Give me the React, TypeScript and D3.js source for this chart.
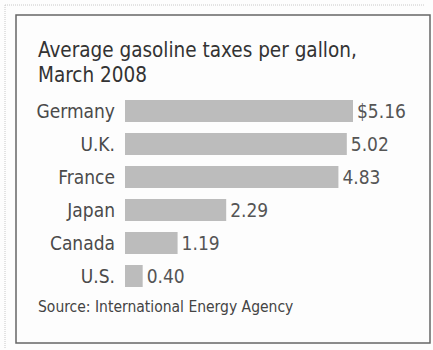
import React from "react";
import * as d3 from "d3";

const countries = ["Germany", "U.K.", "France", "Japan", "Canada", "U.S."];
const taxes = [5.16, 5.02, 4.83, 2.29, 1.19, 0.4];
const titleLines = ["Average gasoline taxes per gallon,", "March 2008"];
const source = "Source: International Energy Agency";

const W = 433;
const H = 350;
const FONT = "'DejaVu Sans Condensed', 'Liberation Sans Narrow', 'DejaVu Sans', sans-serif";

export default function App() {
  const x = d3.scaleLinear().domain([0, 5.16]).range([125, 353]);
  const y = d3
    .scaleBand<string>()
    .domain(countries)
    .range([94.5, 292.5])
    .paddingInner(1 / 3)
    .paddingOuter(1 / 6);

  const fmt = (v: number, i: number) => (i === 0 ? "$" : "") + d3.format(".2f")(v);

  return (
    <svg
      width={W}
      height={H}
      style={{ position: "absolute", left: 0, top: 0, background: "#fff" }}
      fontFamily={FONT}
    >
      <rect x={0} y={0} width={W} height={H} fill="#fdfdfd" />
      <line x1={5} y1={5} x2={425} y2={5} stroke="#c8c8c8" strokeWidth={1} strokeDasharray="1 1" />
      <line x1={5} y1={5} x2={5} y2={348} stroke="#c8c8c8" strokeWidth={1} strokeDasharray="1 1" />
      <rect x={16} y={15} width={414} height={328} fill="none" stroke="#666" strokeWidth={1.5} />
      {titleLines.map((t, i) => (
        <text key={t} x={38} y={57 + i * 24.5} fontSize={20.5} fill="#333">
          {t}
        </text>
      ))}
      {countries.map((c, i) => {
        const yy = y(c)!;
        const cy = yy + y.bandwidth() / 2;
        return (
          <g key={c}>
            <rect x={x(0)} y={yy} width={x(taxes[i]) - x(0)} height={y.bandwidth()} fill="#bcbcbc" />
            <text x={115} y={cy} dy="0.36em" textAnchor="end" fontSize={19} fill="#4a4a4a">
              {c}
            </text>
            <text x={x(taxes[i]) + 4} y={cy} dy="0.36em" fontSize={19} fill="#555">
              {fmt(taxes[i], i)}
            </text>
          </g>
        );
      })}
      <text x={38} y={312} fontSize={15.5} fill="#444">
        {source}
      </text>
    </svg>
  );
}
